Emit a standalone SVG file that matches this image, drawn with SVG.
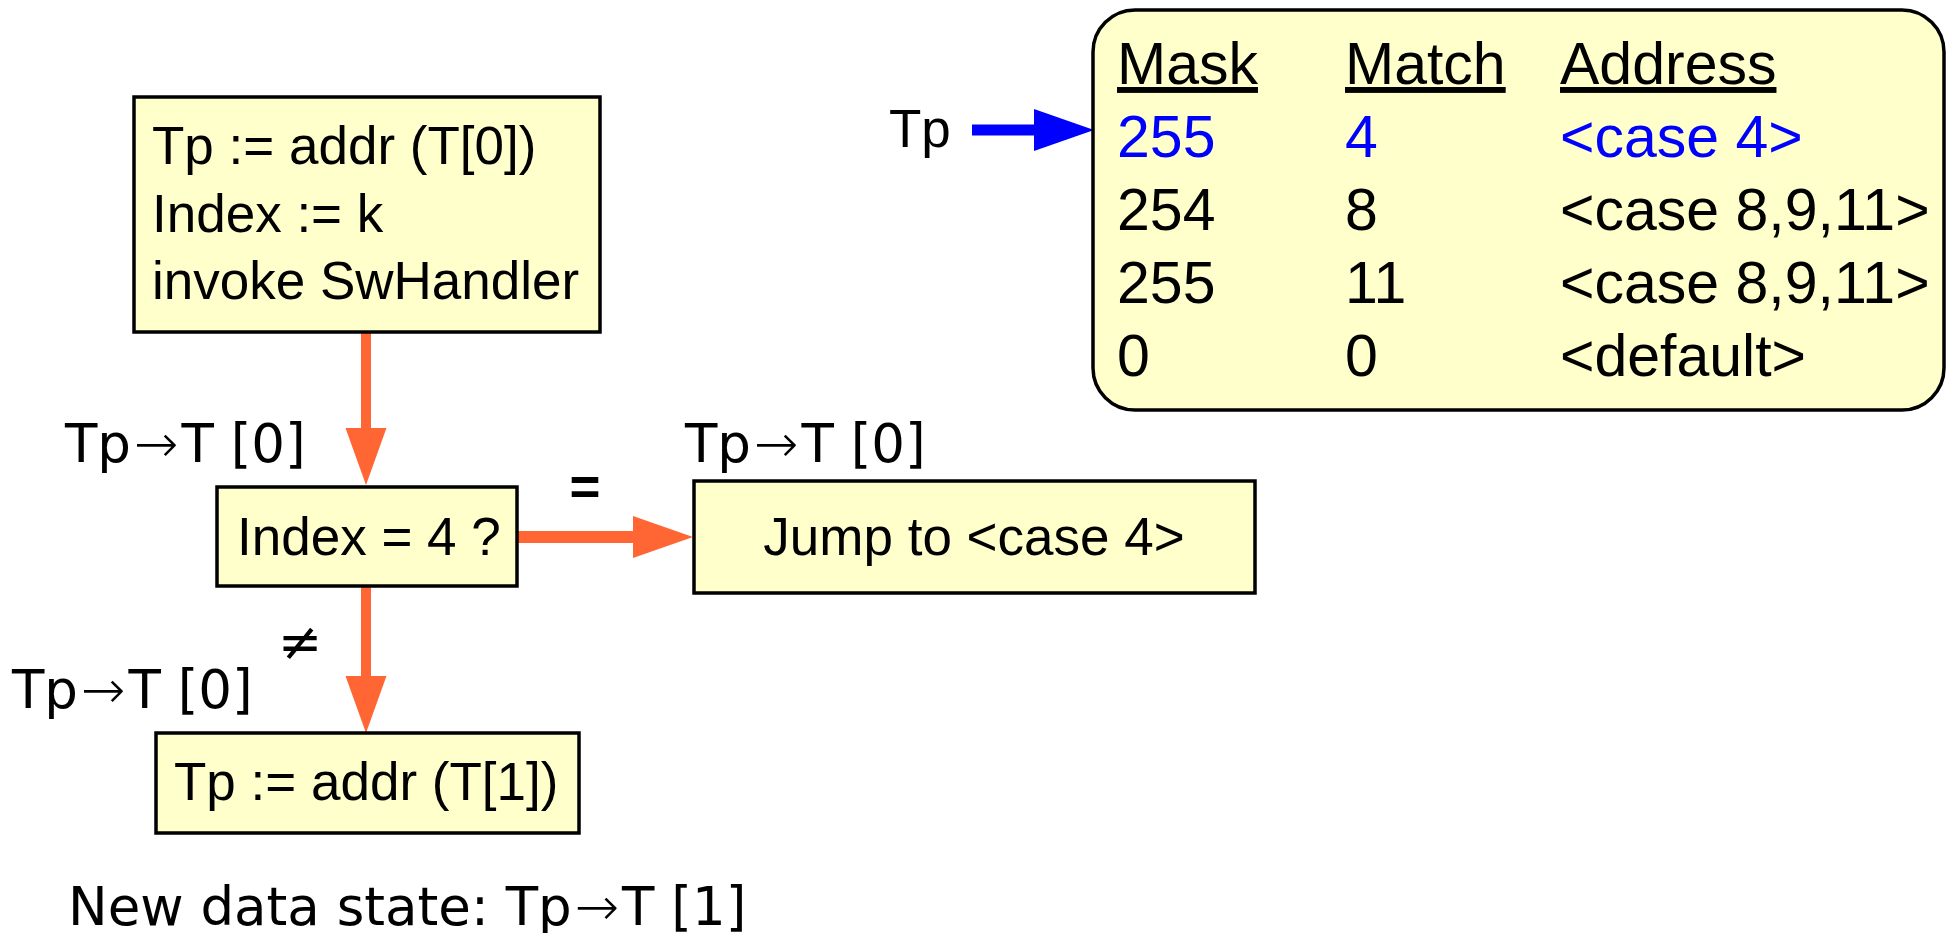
<svg xmlns="http://www.w3.org/2000/svg" width="1947" height="933" viewBox="0 0 1947 933">
<style>
.box{fill:#ffffcc;stroke:#000;stroke-width:3.5}
.t{font-family:"Liberation Sans",Arial,sans-serif;font-size:53px;fill:#000}
.tb{font-family:"Liberation Sans",Arial,sans-serif;font-size:59px;fill:#000}
.blue{fill:#0000ff}
.dv{font-family:"DejaVu Sans",sans-serif;font-size:53px;fill:#000}
.ar{font-weight:200}
.conn{stroke:#ff6633;fill:none}
</style>
<defs>
<marker id="hv" markerUnits="userSpaceOnUse" markerWidth="57" markerHeight="41" refX="0" refY="20.5" orient="auto" overflow="visible">
<path d="M0,0 L57,20.5 L0,41 z" fill="#ff6633"/>
</marker>
<marker id="hh" markerUnits="userSpaceOnUse" markerWidth="60" markerHeight="42" refX="0" refY="21" orient="auto" overflow="visible">
<path d="M0,0 L60,21 L0,42 z" fill="#ff6633"/>
</marker>
<marker id="hb" markerUnits="userSpaceOnUse" markerWidth="60" markerHeight="42" refX="0" refY="21" orient="auto" overflow="visible">
<path d="M0,0 L60,21 L0,42 z" fill="#0000ff"/>
</marker>
</defs>

<g id="connectors">
<line class="conn" x1="366" y1="332" x2="366" y2="428" stroke-width="10" marker-end="url(#hv)"/>
<line class="conn" x1="517" y1="537" x2="633" y2="537" stroke-width="12" marker-end="url(#hh)"/>
<line class="conn" x1="366" y1="586" x2="366" y2="676" stroke-width="10" marker-end="url(#hv)"/>
<line x1="972" y1="130" x2="1034" y2="130" stroke="#0000ff" stroke-width="11" marker-end="url(#hb)"/>
</g>

<g id="init">
<rect class="box" x="134" y="97" width="466" height="235"/>
<text class="t" x="152" y="164">Tp := addr (T[0])</text>
<text class="t" x="152" y="232">Index := k</text>
<text class="t" x="152" y="299">invoke SwHandler</text>
</g>

<g id="test">
<rect class="box" x="217" y="487" width="300" height="99"/>
<text class="t" x="237" y="555">Index = 4 ?</text>
</g>

<g id="jump">
<rect class="box" x="694" y="481" width="561" height="112"/>
<text class="t" x="974" y="555" text-anchor="middle">Jump to &lt;case 4&gt;</text>
</g>

<g id="next">
<rect class="box" x="156" y="733" width="423" height="100"/>
<text class="t" x="174" y="800">Tp := addr (T[1])</text>
</g>

<g id="labels">
<text class="dv" x="65" y="462">Tp<tspan class="ar" dx="3">→</tspan><tspan dx="3">T [0]</tspan></text>
<text class="dv" x="685" y="462">Tp<tspan class="ar" dx="3">→</tspan><tspan dx="3">T [0]</tspan></text>
<text class="dv" x="12" y="708">Tp<tspan class="ar" dx="3">→</tspan><tspan dx="3">T [0]</tspan></text>
<text class="t" x="585" y="505" text-anchor="middle" font-size="62" font-weight="bold">=</text>
<text class="dv" x="300" y="660" text-anchor="middle" font-size="58">≠</text>
<text class="dv" x="68" y="925">New data state: Tp<tspan class="ar" dx="3">→</tspan><tspan dx="3">T [1]</tspan></text>
<text class="t" x="889" y="147" font-size="56">Tp</text>
</g>

<g id="table">
<rect class="box" x="1093" y="10" width="851" height="400" rx="42" ry="42"/>
<text class="tb" x="1117" y="84" text-decoration="underline">Mask</text>
<text class="tb" x="1345" y="84" text-decoration="underline">Match</text>
<text class="tb" x="1560" y="84" text-decoration="underline">Address</text>
<text class="tb blue" x="1117" y="157">255</text>
<text class="tb blue" x="1345" y="157">4</text>
<text class="tb blue" x="1560" y="157">&lt;case 4&gt;</text>
<text class="tb" x="1117" y="230">254</text>
<text class="tb" x="1345" y="230">8</text>
<text class="tb" x="1560" y="230">&lt;case 8,9,11&gt;</text>
<text class="tb" x="1117" y="303">255</text>
<text class="tb" x="1345" y="303">11</text>
<text class="tb" x="1560" y="303">&lt;case 8,9,11&gt;</text>
<text class="tb" x="1117" y="376">0</text>
<text class="tb" x="1345" y="376">0</text>
<text class="tb" x="1560" y="376">&lt;default&gt;</text>
</g>
</svg>
